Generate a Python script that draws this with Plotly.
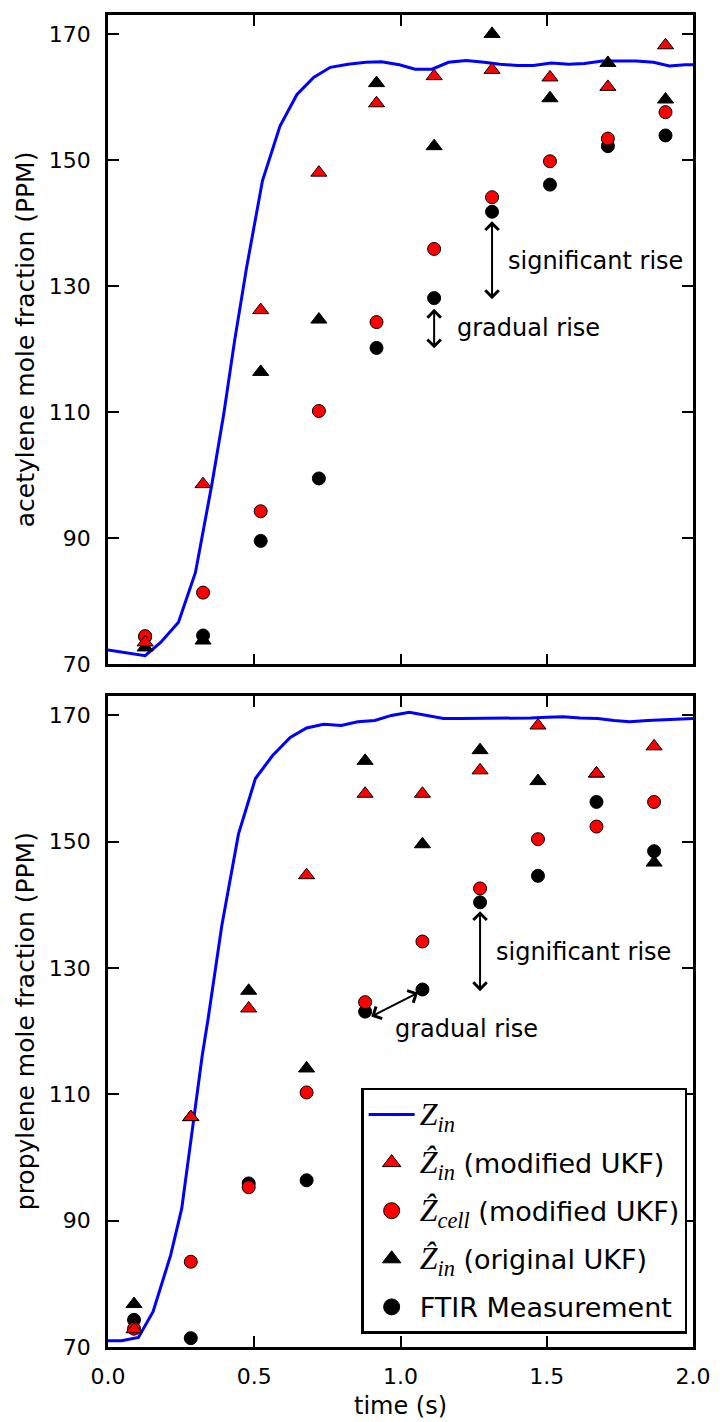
import plotly.graph_objects as go

# ---------------- data ----------------
# top panel (acetylene)
t_top = [0.127, 0.325, 0.522, 0.721, 0.918, 1.115, 1.313, 1.511, 1.709, 1.906]
ac_mod_in = [73.5, 98.6, 126.2, 148.0, 159.0, 163.3, 164.3, 163.1, 161.6, 168.2]
ac_mod_cell = [74.5, 81.4, 94.3, 110.2, 124.3, 135.9, 144.1, 149.8, 153.4, 157.6]
ac_orig_in = [72.7, 73.8, 116.4, 124.7, 162.2, 152.2, 170.0, 159.8, 165.4, 159.6]
ac_ftir = [74.4, 74.6, 89.6, 99.5, 120.2, 128.1, 141.8, 146.1, 152.2, 153.9]
ac_zin_t = [0.0, 0.127, 0.18, 0.241, 0.299, 0.356, 0.396, 0.433, 0.474, 0.528, 0.588,
            0.646, 0.703, 0.76, 0.821, 0.881, 0.935, 0.996, 1.05, 1.108, 1.164, 1.225,
            1.286, 1.34, 1.40, 1.454, 1.515, 1.575, 1.629, 1.69, 1.75, 1.805, 1.865,
            1.919, 1.973, 2.0]
ac_zin = [72.3, 71.4, 73.5, 76.7, 84.6, 98.8, 109.8, 121.4, 133.0, 146.7, 155.4,
          160.4, 163.1, 164.7, 165.2, 165.5, 165.6, 165.1, 164.4, 164.4, 165.5, 165.8,
          165.5, 165.2, 165.0, 165.0, 165.4, 165.2, 165.3, 165.7, 165.7, 165.7, 165.5,
          164.9, 165.1, 165.1]

# bottom panel (propylene)
t_bot = [0.089, 0.283, 0.481, 0.679, 0.879, 1.075, 1.272, 1.470, 1.670, 1.867]
pr_mod_in = [72.8, 106.4, 123.6, 144.7, 157.6, 157.6, 161.3, 168.4, 160.8, 165.1]
pr_mod_cell = [72.9, 83.5, 95.3, 110.3, 124.6, 134.2, 142.6, 150.4, 152.4, 156.3]
pr_orig_in = [76.8, 106.4, 126.4, 114.1, 162.8, 149.6, 164.5, 159.6, 160.8, 146.7]
pr_ftir = [74.3, 71.4, 95.9, 96.4, 123.1, 126.6, 140.4, 144.6, 156.3, 148.5]
pr_zin_t = [0.0, 0.046, 0.104, 0.154, 0.214, 0.252, 0.288, 0.322, 0.342, 0.389, 0.446,
            0.504, 0.562, 0.623, 0.679, 0.737, 0.797, 0.854, 0.912, 0.969, 1.03, 1.088,
            1.147, 1.205, 1.266, 1.326, 1.386, 1.445, 1.50, 1.555, 1.615, 1.674, 1.73,
            1.784, 1.845, 1.906, 1.96, 2.0]
pr_zin = [71.0, 71.0, 71.5, 75.6, 84.5, 91.9, 104.3, 116.1, 121.9, 136.7, 151.2,
          160.0, 163.6, 166.5, 168.0, 168.6, 168.4, 169.0, 169.2, 170.0, 170.5, 170.0,
          169.5, 169.5, 169.5, 169.5, 169.5, 169.6, 169.7, 169.8, 169.6, 169.5, 169.2,
          169.0, 169.2, 169.3, 169.5, 169.5]

x_ticks = [0.0, 0.5, 1.0, 1.5, 2.0]
y_ticks = [70, 90, 110, 130, 150, 170]
y_range = [70, 173]
x_range = [0, 2]

ZS = "<span style=\"font-family:'Liberation Serif';font-size:32px\">"
legend_names = [
    ZS + "<i>Z</i><sub><i>in</i></sub></span>",
    ZS + "<i>Ẑ</i><sub><i>in</i></sub></span> (modified UKF)",
    ZS + "<i>Ẑ</i><sub><i>cell</i></sub></span> (modified UKF)",
    ZS + "<i>Ẑ</i><sub><i>in</i></sub></span> (original UKF)",
    "FTIR Measurement",
]

BLUE = "#0000ff"
RED = "#ff0000"
BLACK = "#000000"
FONT = "DejaVu Sans"
TRI = 14
CIR = 13

fig = go.Figure()

def add_panel(xa, ya, t, zt, zin, orig, ftir, cell, modin):
    fig.add_trace(go.Scatter(x=zt, y=zin, mode="lines", line=dict(color=BLUE, width=3),
                             xaxis=xa, yaxis=ya, showlegend=False))
    fig.add_trace(go.Scatter(x=t, y=orig, mode="markers", xaxis=xa, yaxis=ya, showlegend=False,
                             marker=dict(symbol="triangle-up", size=TRI, color=BLACK,
                                         line=dict(color=BLACK, width=1))))
    fig.add_trace(go.Scatter(x=t, y=ftir, mode="markers", xaxis=xa, yaxis=ya, showlegend=False,
                             marker=dict(symbol="circle", size=CIR, color=BLACK,
                                         line=dict(color=BLACK, width=1))))
    fig.add_trace(go.Scatter(x=t, y=cell, mode="markers", xaxis=xa, yaxis=ya, showlegend=False,
                             marker=dict(symbol="circle", size=CIR, color=RED,
                                         line=dict(color=BLACK, width=1))))
    fig.add_trace(go.Scatter(x=t, y=modin, mode="markers", xaxis=xa, yaxis=ya, showlegend=False,
                             marker=dict(symbol="triangle-up", size=TRI, color=RED,
                                         line=dict(color=BLACK, width=1))))

add_panel("x", "y", t_top, ac_zin_t, ac_zin, ac_orig_in, ac_ftir, ac_mod_cell, ac_mod_in)
add_panel("x2", "y2", t_bot, pr_zin_t, pr_zin, pr_orig_in, pr_ftir, pr_mod_cell, pr_mod_in)

# legend entries
leg_styles = [
    dict(mode="lines", line=dict(color=BLUE, width=3)),
    dict(mode="markers", marker=dict(symbol="triangle-up", size=16, color=RED, line=dict(color=BLACK, width=1))),
    dict(mode="markers", marker=dict(symbol="circle", size=16, color=RED, line=dict(color=BLACK, width=1))),
    dict(mode="markers", marker=dict(symbol="triangle-up", size=16, color=BLACK, line=dict(color=BLACK, width=1))),
    dict(mode="markers", marker=dict(symbol="circle", size=16, color=BLACK, line=dict(color=BLACK, width=1))),
]
for i, (nm, st) in enumerate(zip(legend_names, leg_styles)):
    fig.add_trace(go.Scatter(x=[None], y=[None], name=nm, xaxis="x2", yaxis="y2",
                             legendgroup=f"g{i}", legendrank=i + 1, **st))

axis_common = dict(showline=True, linecolor=BLACK, linewidth=2.5, mirror="allticks",
                   ticks="inside", ticklen=11, tickwidth=1.5, tickcolor=BLACK,
                   showgrid=False, zeroline=False,
                   tickfont=dict(family=FONT, size=22, color=BLACK))

fig.update_layout(
    width=723, height=1422,
    margin=dict(l=108, r=22, t=14, b=75),
    paper_bgcolor="white", plot_bgcolor="white",
    font=dict(family=FONT, color=BLACK),
    xaxis=dict(domain=[0, 1], range=x_range, tickvals=x_ticks, showticklabels=False,
               anchor="y", **axis_common),
    yaxis=dict(domain=[0.5124, 1], range=y_range, tickvals=y_ticks, anchor="x",
               ticklabelstandoff=10, **axis_common),
    xaxis2=dict(domain=[0, 1], range=x_range, tickvals=x_ticks, tickformat=".1f",
                anchor="y2", ticklabelstandoff=8, **axis_common),
    yaxis2=dict(domain=[0, 0.4884], range=y_range, tickvals=y_ticks, anchor="x2",
                ticklabelstandoff=10, **axis_common),
    legend=dict(x=0.99, y=0.0098, xanchor="right", yanchor="bottom",
                bgcolor="white", bordercolor=BLACK, borderwidth=2.5,
                font=dict(family=FONT, size=27, color=BLACK),
                tracegroupgap=10, itemwidth=46),
    showlegend=True,
)

def arrow(xr, yr, x0, y0, x1, y1):
    fig.add_annotation(x=x1, y=y1, ax=x0, ay=y0, xref=xr, yref=yr, axref=xr, ayref=yr,
                       text="", showarrow=True, arrowhead=4, startarrowhead=4,
                       arrowside="end+start", arrowsize=1.3, startarrowsize=1.3,
                       arrowwidth=2, arrowcolor=BLACK, standoff=0, startstandoff=0)

def label(xr, yr, x, y, txt):
    fig.add_annotation(x=x, y=y, xref=xr, yref=yr, text=txt, showarrow=False,
                       xanchor="left", yanchor="middle",
                       font=dict(family=FONT, size=24, color=BLACK))

arrow("x", "y", 1.115, 119.9, 1.115, 126.4)
arrow("x", "y", 1.313, 127.7, 1.313, 140.3)
label("x", "y", 1.185, 123.3, "gradual rise")
label("x", "y", 1.36, 134.0, "significant rise")

arrow("x2", "y2", 0.895, 122.2, 1.06, 126.1)
arrow("x2", "y2", 1.272, 126.1, 1.272, 139.0)
label("x2", "y2", 0.976, 120.3, "gradual rise")
label("x2", "y2", 1.319, 132.6, "significant rise")

# axis titles
fig.add_annotation(x=-0.141, y=0.7562, xref="paper", yref="paper", text="acetylene mole fraction (PPM)",
                   textangle=-90, showarrow=False, xanchor="center", yanchor="middle",
                   font=dict(family=FONT, size=25, color=BLACK))
fig.add_annotation(x=-0.141, y=0.2442, xref="paper", yref="paper", text="propylene mole fraction (PPM)",
                   textangle=-90, showarrow=False, xanchor="center", yanchor="middle",
                   font=dict(family=FONT, size=25, color=BLACK))
fig.add_annotation(x=0.5, y=-0.044, xref="paper", yref="paper", text="time (s)",
                   showarrow=False, xanchor="center", yanchor="middle",
                   font=dict(family=FONT, size=24, color=BLACK))

fig.write_html("out.html")
